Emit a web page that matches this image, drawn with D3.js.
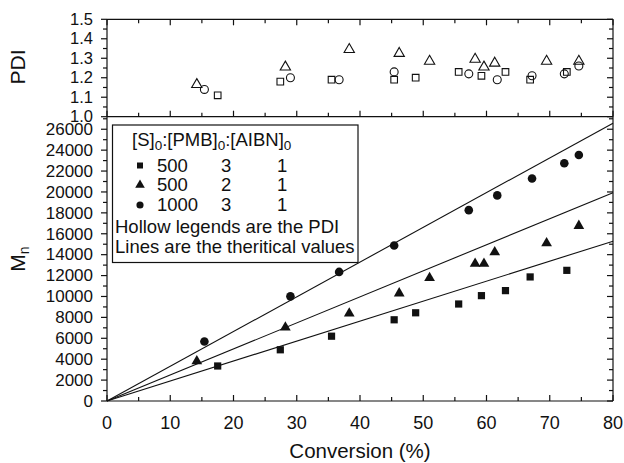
<!DOCTYPE html>
<html><head><meta charset="utf-8">
<script src="https://cdn.jsdelivr.net/npm/d3@7"></script>
<style>
html,body{margin:0;padding:0;background:#fff;}
svg text{font-family:"Liberation Sans",Arial,Helvetica,sans-serif;fill:#111;}
</style></head>
<body>
<svg id="c" width="624" height="463"></svg>
<script>
// ---- data ----
const sqConv = [17.5, 27.4, 35.5, 45.4, 48.8, 55.6, 59.2, 63.0, 66.9, 72.7];
const sqMn   = [3350, 4900, 6200, 7770, 8440, 9280, 10080, 10560, 11870, 12500];
const sqPDI  = [1.11, 1.18, 1.19, 1.19, 1.20, 1.23, 1.21, 1.23, 1.19, 1.23];
const triConv = [14.2, 28.2, 38.3, 46.2, 51.0, 58.2, 59.6, 61.3, 69.5, 74.6];
const triMn   = [3900, 7130, 8480, 10400, 11870, 13240, 13240, 14330, 15200, 16860];
const triPDI  = [1.17, 1.26, 1.35, 1.33, 1.29, 1.30, 1.26, 1.28, 1.29, 1.29];
const cirConv = [15.4, 29.0, 36.7, 45.4, 57.2, 61.7, 67.2, 72.3, 74.6];
const cirMn   = [5690, 10010, 12350, 14880, 18260, 19670, 21280, 22740, 23540];
const cirPDI  = [1.14, 1.20, 1.19, 1.23, 1.22, 1.19, 1.21, 1.22, 1.26];
// theoretical lines (through origin): Mn at conversion = 80 %
const theoryEnd = [15290, 19930, 26580];
const legendRows = [["500","3","1"],["500","2","1"],["1000","3","1"]];
const xTicks = [0,10,20,30,40,50,60,70,80];
const mnTicks = d3.range(0, 26001, 2000);
const pdiTicks = [1.0,1.1,1.2,1.3,1.4,1.5];

// ---- layout ----
const svg = d3.select("#c");
const L = 107, R = 613, pTop = 19.3, pBot = 116.7, mBot = 401;
const x = d3.scaleLinear().domain([0,80]).range([L,R]);
const yP = d3.scaleLinear().domain([1.0,1.5]).range([pBot,pTop]);
const yM = d3.scaleLinear().domain([0,27200]).range([mBot,pBot]);

const g = svg.append("g");
const ink = "#111";
const xMinor = d3.range(5,80,10);

function xAxisInward(y, dir){
  const a = g.append("g").attr("transform",`translate(0,${y})`);
  a.append("line").attr("x1",L).attr("x2",R).attr("stroke",ink).attr("stroke-width",1.2);
  a.selectAll(".mj").data(xTicks).join("line").attr("x1",d=>x(d)).attr("x2",d=>x(d)).attr("y1",0).attr("y2",dir*6).attr("stroke",ink).attr("stroke-width",1.2);
  a.selectAll(".mn").data(xMinor).join("line").attr("x1",d=>x(d)).attr("x2",d=>x(d)).attr("y1",0).attr("y2",dir*4).attr("stroke",ink).attr("stroke-width",1.2);
}
xAxisInward(mBot,-1);
xAxisInward(pBot,-1);
xAxisInward(pTop,1);

g.selectAll(".xl").data(xTicks).join("text").attr("x",d=>x(d)).attr("y",429).attr("text-anchor","middle").attr("font-size",18).text(d=>d);

function yAxes(scale, major, minor, y0, y1, fmt, fs){
  [L,R].forEach(px=>{
    const a = g.append("g");
    a.append("line").attr("x1",px).attr("x2",px).attr("y1",y0).attr("y2",y1).attr("stroke",ink).attr("stroke-width",1.2);
    a.selectAll(".mj").data(major).join("line").attr("x1",px).attr("x2",px-6).attr("y1",d=>scale(d)).attr("y2",d=>scale(d)).attr("stroke",ink).attr("stroke-width",1.2);
    a.selectAll(".mn").data(minor).join("line").attr("x1",px).attr("x2",px-4).attr("y1",d=>scale(d)).attr("y2",d=>scale(d)).attr("stroke",ink).attr("stroke-width",1.2);
  });
  g.selectAll(null).data(major).join("text").attr("x",L-14).attr("y",d=>scale(d)+fs*0.34).attr("text-anchor","end").attr("font-size",fs).text(fmt);
}
yAxes(yM, mnTicks, d3.range(1000,27001,2000), mBot, pBot, d=>d, 17);
yAxes(yP, pdiTicks, [1.05,1.15,1.25,1.35,1.45], pBot, pTop, d=>d.toFixed(1), 16.5);

// axis titles
g.append("text").attr("x",360).attr("y",458).attr("text-anchor","middle").attr("font-size",20.5).text("Conversion (%)");
g.append("text").attr("transform","translate(25,67) rotate(-90)").attr("text-anchor","middle").attr("font-size",21).text("PDI");
const mt = g.append("text").attr("transform","translate(25,259) rotate(-90)").attr("text-anchor","middle").attr("font-size",21);
mt.append("tspan").text("M");
mt.append("tspan").attr("font-size",14).attr("dy",4).text("n");

// theoretical lines
const lg = g.append("g");
theoryEnd.forEach(v=>{
  lg.append("line").attr("x1",x(0)).attr("y1",yM(0)).attr("x2",x(80)).attr("y2",yM(v)).attr("stroke",ink).attr("stroke-width",1.1);
});

// markers
const sq = d3.symbol().type(d3.symbolSquare).size(52);
const tri = d3.symbol().type(d3.symbolTriangle).size(50);
const cir = d3.symbol().type(d3.symbolCircle).size(58);
function plot(conv, vals, scale, sym, filled, dy){
  g.append("g").selectAll("path").data(conv).join("path")
    .attr("d",sym).attr("transform",(d,i)=>`translate(${x(d)},${scale(vals[i])+(dy||0)})`)
    .attr("fill",filled?ink:"none").attr("stroke",ink).attr("stroke-width",filled?0:1.1);
}
plot(sqConv, sqMn, yM, sq, true);
plot(triConv, triMn, yM, tri, true, 1);
plot(cirConv, cirMn, yM, cir, true);
plot(sqConv, sqPDI, yP, d3.symbol().type(d3.symbolSquare).size(44), false);
plot(triConv, triPDI, yP, d3.symbol().type(d3.symbolTriangle).size(46), false, 1);
plot(cirConv, cirPDI, yP, d3.symbol().type(d3.symbolCircle).size(50), false);

// legend
const lb = g.append("g");
lb.append("rect").attr("x",112.5).attr("y",125).attr("width",245.5).attr("height",137.5).attr("fill","#fff").attr("stroke",ink).attr("stroke-width",1.2);
const hdr = lb.append("text").attr("x",132).attr("y",146).attr("font-size",18.5);
["[S]","[PMB]","[AIBN]"].forEach((s,i)=>{
  hdr.append("tspan").attr("dy", i===0?0:-4).text((i>0?":":"")+s);
  hdr.append("tspan").attr("font-size",13.5).attr("dy",4).text("0");
});
const syms = [d3.symbol().type(d3.symbolSquare).size(36), d3.symbol().type(d3.symbolTriangle).size(40), d3.symbol().type(d3.symbolCircle).size(40)];
const rowY = [171.5, 191, 211];
legendRows.forEach((r,i)=>{
  lb.append("path").attr("d",syms[i]).attr("transform",`translate(140,${rowY[i]-6})`).attr("fill",ink);
  lb.append("text").attr("x",157).attr("y",rowY[i]).attr("font-size",18.5).text(r[0]);
  lb.append("text").attr("x",221).attr("y",rowY[i]).attr("font-size",18.5).text(r[1]);
  lb.append("text").attr("x",277).attr("y",rowY[i]).attr("font-size",18.5).text(r[2]);
});
lb.append("text").attr("x",115).attr("y",233).attr("font-size",18.5).text("Hollow legends are the PDI");
lb.append("text").attr("x",115).attr("y",253).attr("font-size",18.5).text("Lines are the theritical values");
</script>
</body></html>
